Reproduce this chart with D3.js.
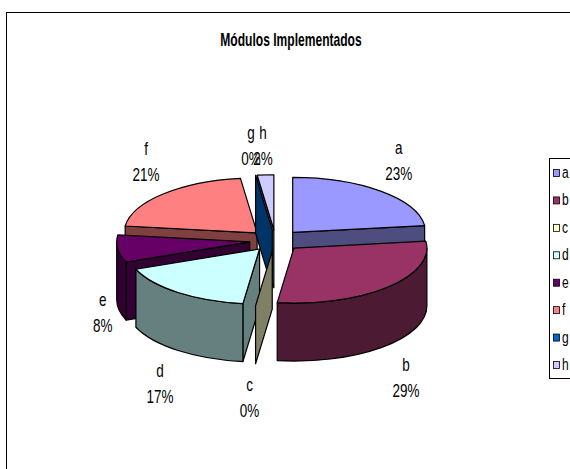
<!DOCTYPE html>
<html>
<head>
<meta charset="utf-8">
<title>Módulos Implementados</title>
<script src="https://cdn.jsdelivr.net/npm/d3@7/dist/d3.min.js"></script>
<style>
  html, body { margin: 0; padding: 0; background: #fff; overflow: hidden; }
  svg { display: block; }
  text { font-family: "Liberation Sans", Arial, sans-serif; fill: #000; }
</style>
</head>
<body>
<svg id="chart" width="570" height="469"></svg>
<script>
// Chart content
const chartTitle = "Módulos Implementados";
const categories = ["a", "b", "c", "d", "e", "f", "g", "h"];
const percentages = [23, 29, 0, 17, 8, 21, 0, 2];
const topColors  = ["#9999FF", "#993366", "#FFFFCC", "#CCFFFF", "#660066", "#FF8080", "#0066CC", "#CCCCFF"];
const sideColors = ["#4D4D80", "#4D1A33", "#808066", "#668080", "#330033", "#804040", "#003366", "#666680"];

// Pie geometry: tilted ellipse, extruded downward, each slice pulled out along its bisector
const W = 570, H = 469;
const center = { x: 275.5, y: 240.5 };
const radiusX = 133, radiusY = 55, depth = 58, explode = 26;
const tilt = radiusY / radiusX;
// All text is set in a condensed width
const narrow = 0.75;

// Back-to-front painting order of the slices
const paintOrder = [7, 0, 5, 6, 4, 3, 2, 1];
// Label offset from each slice's outer rim midpoint
const labelNudge = [[18, -30], [18, 33], [-6, 34], [-18, 34], [-15, 6], [-17, -32], [-4.5, -29], [-2.5, -29]];

const svg = d3.select("#chart");

// Horizontally condensed text anchored at x, y
function putText(parent, x, y, str, size, anchor, scaleX, weight) {
  return parent.append("text")
    .attr("transform", `translate(${x},${y}) scale(${scaleX},1)`)
    .attr("text-anchor", anchor)
    .attr("font-size", size)
    .attr("font-weight", weight || "normal")
    .text(str);
}

// Outer chart frame runs past the right and bottom edges of the page
svg.append("rect")
  .attr("x", 6.5).attr("y", 12.5)
  .attr("width", W + 20).attr("height", H + 20)
  .attr("fill", "#fff").attr("stroke", "#000").attr("stroke-width", 1);

putText(svg, 291, 46, chartTitle, 17.5, "middle", 0.69, "bold");

// Pie layout, clockwise from twelve o'clock
const slices = d3.pie().sort(null).startAngle(0).endAngle(2 * Math.PI)(percentages);

const polar = (c, a) => ({
  x: c.x + radiusX * Math.sin(a),
  y: c.y - radiusY * Math.cos(a)
});
const move = (p) => `${p.x} ${p.y}`;

function sliceGeometry(s) {
  const mid = (s.startAngle + s.endAngle) / 2;
  const apex = {
    x: center.x + explode * Math.sin(mid),
    y: center.y - explode * tilt * Math.cos(mid)
  };
  return { mid, apex };
}

// Elliptical arc command running clockwise from angle a0 to a1
function arcTo(c, a0, a1) {
  const p = polar(c, a1);
  return `A ${radiusX} ${radiusY} 0 ${a1 - a0 > Math.PI ? 1 : 0} 1 ${move(p)}`;
}

const pieG = svg.append("g").attr("stroke", "#000").attr("stroke-width", 1.2).attr("stroke-linejoin", "round");

// Cut face along the radius at angle a
function drawCutFace(g, apex, a, color) {
  const rim = polar(apex, a);
  const d = `M ${move(apex)} L ${move(rim)} L ${rim.x} ${rim.y + depth} L ${apex.x} ${apex.y + depth} Z`;
  g.append("path").attr("d", d).attr("fill", color);
}

paintOrder.forEach((i) => {
  const s = slices[i];
  const { apex } = sliceGeometry(s);
  const g = pieG.append("g").attr("class", "slice-" + categories[i]);
  const a0 = s.startAngle, a1 = s.endAngle;

  // Cut faces turned toward the viewer
  if (Math.sin(a0) < -1e-6) drawCutFace(g, apex, a0, sideColors[i]);
  if (Math.sin(a1) > 1e-6) drawCutFace(g, apex, a1, sideColors[i]);

  // Curved outer wall on the front half of the ellipse
  const w0 = Math.max(a0, Math.PI / 2), w1 = Math.min(a1, 3 * Math.PI / 2);
  if (w1 > w0) {
    const low = { x: apex.x, y: apex.y + depth };
    const p0 = polar(apex, w0), q1 = polar(low, w1);
    const d = `M ${move(p0)} ${arcTo(apex, w0, w1)} L ${move(q1)} ` +
      `A ${radiusX} ${radiusY} 0 ${w1 - w0 > Math.PI ? 1 : 0} 0 ${move(polar(low, w0))} Z`;
    g.append("path").attr("d", d).attr("fill", sideColors[i]);
  }

  // Top face
  if (a1 > a0) {
    const d = `M ${move(apex)} L ${move(polar(apex, a0))} ${arcTo(apex, a0, a1)} Z`;
    g.append("path").attr("d", d).attr("fill", topColors[i]);
  }
});

// Category and percentage labels around the pie
slices.forEach((s, i) => {
  const { mid, apex } = sliceGeometry(s);
  const rim = polar(apex, mid);
  const front = Math.cos(mid) < 0 ? depth : 0;
  const x = rim.x + labelNudge[i][0];
  const y = rim.y + front + labelNudge[i][1];
  putText(svg, x, y - 7, categories[i], 18, "middle", narrow);
  putText(svg, x, y + 19, percentages[i] + "%", 18, "middle", narrow);
});

// Legend, clipped by the right edge of the page
const legendY = d3.scalePoint().domain(categories).range([173, 365]);
svg.append("rect")
  .attr("x", 549.5).attr("y", 158.5)
  .attr("width", 40).attr("height", 220)
  .attr("fill", "#fff").attr("stroke", "#000").attr("stroke-width", 1);

categories.forEach((c, i) => {
  const y = legendY(c);
  svg.append("rect")
    .attr("x", 553.5).attr("y", y - 3.5).attr("width", 6).attr("height", 7)
    .attr("fill", topColors[i])
    .attr("stroke", "#000").attr("stroke-width", 0.8);
  putText(svg, 562, y + 5, c, 16, "start", narrow);
});
</script>
</body>
</html>
